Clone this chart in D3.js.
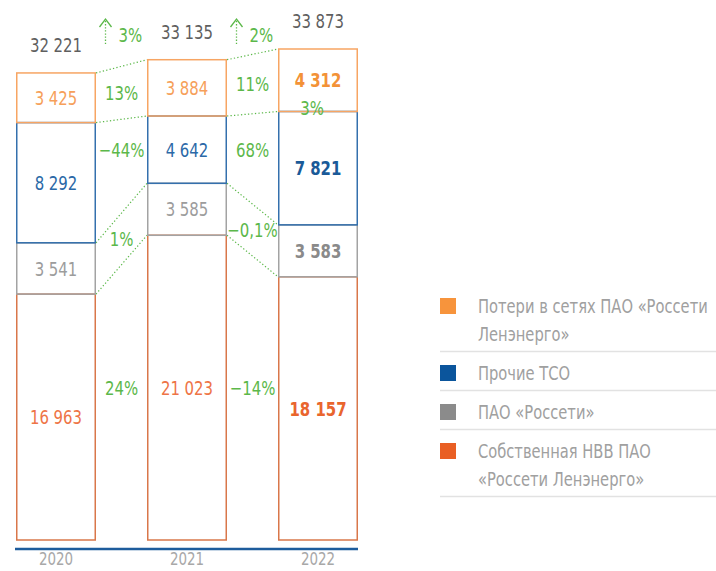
<!DOCTYPE html>
<html>
<head>
<meta charset="utf-8">
<script src="https://cdn.jsdelivr.net/npm/d3@7/dist/d3.min.js"></script>
<style>
  html, body { margin: 0; padding: 0; background: #fff; }
  svg { display: block; }
  text { font-family: "DejaVu Sans Condensed", "DejaVu Sans", sans-serif; }
</style>
</head>
<body>
<svg id="chart" width="716" height="571"></svg>
<script>
// Tariff revenue structure, mln rub
const years = ["2020", "2021", "2022"];
const ownNVV = [16963, 21023, 18157];     // Собственная НВВ ПАО «Россети Ленэнерго»
const rosseti = [3541, 3585, 3583];       // ПАО «Россети»
const otherTSO = [8292, 4642, 7821];      // Прочие ТСО
const losses = [3425, 3884, 4312];        // Потери в сетях
const totals = [32221, 33135, 33873];

// year-over-year changes, per segment (2020→2021, 2021→2022)
const changeOwn = ["24%", "−14%"];
const changeRosseti = ["1%", "−0,1%"];
const changeTSO = ["−44%", "68%"];
const changeLosses = ["13%", "11%"];
const changeTotal = ["3%", "2%"];
const noteLosses2022 = "3%";

const legendLines = [
  ["Потери в сетях ПАО «Россети", "Ленэнерго»"],
  ["Прочие ТСО"],
  ["ПАО «Россети»"],
  ["Собственная НВВ ПАО", "«Россети Ленэнерго»"]
];

const fmt = v => d3.format(",")(v).replace(/,/g, " ");

// segment stack, bottom to top
const series = [
  { key: "own", values: ownNVV, change: changeOwn, stroke: "#d9774a", text: "#ee7446", bold: "#e9652e", swatch: "#e95f24" },
  { key: "ros", values: rosseti, change: changeRosseti, stroke: "#a3a3a3", text: "#9c9c9c", bold: "#8a8a8a", swatch: "#8b8b8b" },
  { key: "tso", values: otherTSO, change: changeTSO, stroke: "#3470ad", text: "#2b69a7", bold: "#1a5a98", swatch: "#0b559c" },
  { key: "los", values: losses, change: changeLosses, stroke: "#f7a563", text: "#f6a05a", bold: "#f39237", swatch: "#f7943c" }
];
const legendOrder = ["los", "tso", "ros", "own"];

const svg = d3.select("#chart");
const green = "#5cb84a";
const NARROW = 0.83;

// condensed text: positioned by transform, squeezed horizontally
function label(parent, x, y, txt, o = {}) {
  return parent.append("text")
    .attr("transform", `translate(${x},${y}) scale(${o.sx || NARROW},1)`)
    .attr("text-anchor", o.anchor || "middle")
    .attr("dy", o.dy || null)
    .attr("font-size", o.size || 20)
    .attr("font-weight", o.weight || "normal")
    .attr("fill", o.fill || "#555")
    .text(txt);
}

const x = d3.scaleBand().domain(years).range([16, 358]).paddingInner(51 / 131).paddingOuter(0);
const y = d3.scaleLinear().domain([0, d3.max(totals)]).range([540, 49]);

// stacked boundaries
const stacks = years.map((yr, i) => {
  let acc = 0;
  return series.map(s => {
    const y0 = acc; acc += s.values[i];
    return { yr, i, s, v: s.values[i], y0, y1: acc };
  });
});

// dotted connectors between neighbouring columns at each segment top
const conn = svg.append("g");
for (let i = 0; i < years.length - 1; i++) {
  const xa = x(years[i]) + x.bandwidth(), xb = x(years[i + 1]);
  series.forEach((s, k) => {
    const a = stacks[i][k], b = stacks[i + 1][k];
    conn.append("line")
      .attr("x1", xa).attr("y1", y(a.y1)).attr("x2", xb).attr("y2", y(b.y1))
      .attr("stroke", green).attr("stroke-width", 1.2).attr("stroke-dasharray", "1.3,2.2");
  });
}

// bars: outlined segments
const bars = svg.append("g");
stacks.forEach(col => {
  col.forEach(d => {
    bars.append("rect")
      .attr("x", x(d.yr) + 0.75).attr("width", x.bandwidth() - 1.5)
      .attr("y", y(d.y1)).attr("height", y(d.y0) - y(d.y1))
      .attr("fill", "none").attr("stroke", d.s.stroke).attr("stroke-width", 1.5);
  });
});

// value labels
stacks.forEach(col => {
  const last = col[0].i === years.length - 1;
  col.forEach(d => {
    label(svg, x(d.yr) + x.bandwidth() / 2, (y(d.y0) + y(d.y1)) / 2, fmt(d.v), {
      dy: "0.36em",
      weight: last ? "bold" : "normal",
      fill: last ? d.s.bold : d.s.text
    });
  });
});

// totals
years.forEach((yr, i) => {
  label(svg, x(yr) + x.bandwidth() / 2, y(totals[i]) - 21, fmt(totals[i]), { fill: "#5f5f5f" });
});

// segment change labels inside the gaps
for (let i = 0; i < years.length - 1; i++) {
  const cx = (x(years[i]) + x.bandwidth() + x(years[i + 1])) / 2;
  series.forEach((s, k) => {
    const a = stacks[i][k], b = stacks[i + 1][k];
    const top = (y(a.y1) + y(b.y1)) / 2, bot = (y(a.y0) + y(b.y0)) / 2;
    const gapMid = (top + bot) / 2;
    const midYear = i === 0 ? b : a;
    const cy = (bot - top) > 80 ? (y(midYear.y0) + y(midYear.y1)) / 2 : gapMid;
    label(svg, cx, cy, s.change[i], { dy: "0.36em", fill: green });
  });

  // total growth arrow
  const topY = y(d3.max(totals));
  const ax = cx - 16;
  const ag = svg.append("g").attr("stroke", green).attr("stroke-width", 1.3).attr("fill", "none");
  ag.append("line").attr("x1", ax).attr("x2", ax).attr("y1", topY - 28).attr("y2", topY - 4)
    .attr("stroke-dasharray", "1.3,1.8");
  ag.append("polyline")
    .attr("points", `${ax - 6},${topY - 22} ${ax},${topY - 30} ${ax + 6},${topY - 22}`);
  label(svg, cx - 3, topY - 7, changeTotal[i], { anchor: "start", fill: green });
}

// note at the 2022 losses / other TSO boundary
{
  const d = stacks[years.length - 1][2];
  label(svg, x(d.yr) + x.bandwidth() / 2 - 6, y(d.y1) + 3, noteLosses2022, { fill: green });
}

// baseline axis
svg.append("line")
  .attr("x1", x.range()[0] - 1).attr("x2", x.range()[1])
  .attr("y1", 549).attr("y2", 549)
  .attr("stroke", "#1d5c9c").attr("stroke-width", 2.6);

// year labels along the axis
const xAxis = svg.append("g").attr("transform", "translate(0,551)")
  .call(d3.axisBottom(x).tickSize(0).tickFormat(""));
xAxis.select(".domain").remove();
years.forEach(yr => {
  label(svg, x(yr) + x.bandwidth() / 2, 565, yr, { size: 18, fill: "#a8a8a8" });
});

// legend
const lg = svg.append("g");
let rowTop = 298;
legendOrder.forEach((key, r) => {
  const s = series.find(d => d.key === key);
  const lines = legendLines[r];
  lg.append("rect").attr("x", 440).attr("y", rowTop).attr("width", 16).attr("height", 16).attr("fill", s.swatch);
  const base = rowTop + 15;
  lines.forEach((ln, j) => {
    label(lg, 478, base + j * 28, ln, { anchor: "start", size: 19, sx: 0.86, fill: "#a0a0a0" });
  });
  const lastBase = base + (lines.length - 1) * 28;
  const sep = lastBase + 10.5;
  lg.append("line").attr("x1", 440).attr("x2", 716).attr("y1", sep).attr("y2", sep)
    .attr("stroke", "#e2e2e2").attr("stroke-width", 1.5);
  rowTop = sep + 13.5;
});
</script>
</body>
</html>
